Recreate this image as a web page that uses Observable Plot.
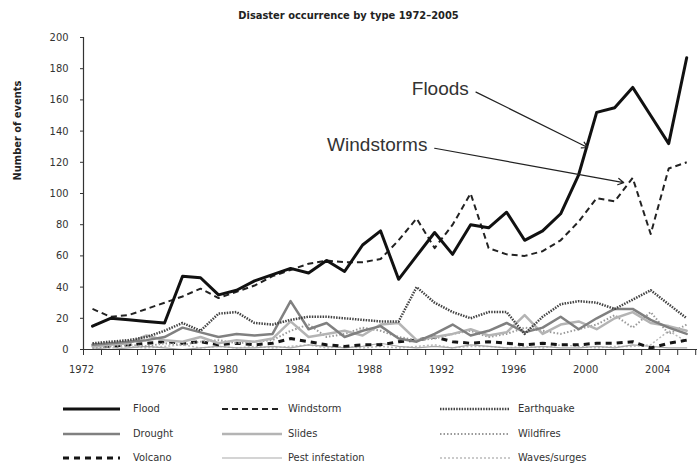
<!DOCTYPE html>
<html><head><meta charset="utf-8">
<script src="https://cdn.jsdelivr.net/npm/d3@7"></script>
<script src="https://cdn.jsdelivr.net/npm/@observablehq/plot@0.6"></script>
<style>
body{margin:0;background:#fff;width:697px;height:466px;overflow:hidden;position:relative;font-family:"Liberation Sans Narrow","DejaVu Sans Condensed","Roboto Condensed",sans-serif;font-stretch:condensed;}
#title{height:30px;line-height:32px;text-align:center;font-weight:bold;font-size:11px;color:#222;}
#chart{height:360px}
.item{position:absolute;font-size:11px;color:#333;line-height:12px;}
.item svg{position:absolute;overflow:visible}
</style></head><body>
<div id="title">Disaster occurrence by type 1972–2005</div>
<div id="chart"></div>
<div id="legend"></div>
<script>
const years = d3.range(1972, 2006);
const flood      = [15,20,19,18,17,47,46,35,38,44,48,52,49,57,50,67,76,45,60,75,61,80,78,88,70,76,87,112,152,155,168,150,132,187];
const windstorm  = [26,21,22,26,30,34,39,33,37,41,47,51,55,57,56,56,58,70,84,65,80,100,65,61,60,63,70,82,97,95,110,74,116,120];
const earthquake = [4,5,6,8,12,17,12,23,24,17,16,19,21,21,20,19,18,18,40,30,24,20,24,24,10,21,29,31,30,26,32,38,29,20];
const drought    = [3,4,5,6,8,14,11,8,10,9,10,31,13,17,8,12,15,7,5,10,16,9,12,17,11,14,21,13,20,26,26,19,14,10];
const slides     = [2,3,4,9,6,5,8,4,6,5,7,18,8,10,12,9,16,17,6,8,10,13,9,11,22,10,16,18,13,20,24,17,15,12];
const wildfires  = [1,2,3,2,4,3,5,6,4,5,6,12,16,8,10,14,12,8,6,7,10,12,8,10,14,12,10,13,16,22,14,24,10,16];
const volcano    = [3,2,3,4,5,4,5,3,4,3,4,7,5,3,2,3,3,5,6,8,5,4,5,4,3,4,3,3,4,4,5,1,4,6];
const pest       = [1,0,1,2,1,0,1,2,1,1,2,1,3,2,1,2,4,2,1,2,1,3,2,1,1,2,1,1,2,1,3,2,1,1];
const waves      = [2,1,2,1,2,3,1,2,1,2,1,2,3,1,2,1,2,1,2,3,1,2,2,1,2,1,3,2,1,2,2,3,12,5];
const names = ["Flood","Windstorm","Earthquake","Drought","Slides","Wildfires","Volcano","Pest infestation","Waves/surges"];
const series = [flood, windstorm, earthquake, drought, slides, wildfires, volcano, pest, waves];
const yTicks = d3.range(0, 201, 20);
const labelYears = d3.range(1972, 2005, 4);
const annotations = [
  {label:"Floods", tx:1992.9, ty:163, x1:1993.3, y1:165, x2:1999.5, y2:129.5},
  {label:"Windstorms", tx:1990.6, ty:127, x1:1991.0, y1:129, x2:2001.5, y2:107}
];

const styles = {
  "Flood":            {stroke:"#111", w:3,   dash:null},
  "Windstorm":        {stroke:"#222", w:2,   dash:"6,4"},
  "Earthquake":       {stroke:"#444", w:2.5, dash:"1.5,1.2"},
  "Drought":          {stroke:"#808080", w:2.5, dash:null},
  "Slides":           {stroke:"#b4b4b4", w:2.5, dash:null},
  "Wildfires":        {stroke:"#999", w:2,   dash:"1.5,2"},
  "Volcano":          {stroke:"#151515", w:3, dash:"6,5"},
  "Pest infestation": {stroke:"#aaa", w:1.2, dash:null},
  "Waves/surges":     {stroke:"#bbb", w:1.5, dash:"2,2"}
};

const rows = names.flatMap((n, i) => years.map((y, j) => ({type: n, year: y, value: series[i][j]})));
const x0 = years[0] - 0.5;
const halfTicks = d3.range(years[0] - 0.5, years[years.length-1] + 0.6, 1);

const lineMarks = [...names].reverse().map(n => {
  const s = styles[n];
  return Plot.line(rows.filter(d => d.type === n), {
    x: "year", y: "value", stroke: s.stroke, strokeWidth: s.w,
    strokeDasharray: s.dash, strokeLinejoin: "round", strokeLinecap: s.dash ? "butt" : "round"
  });
});

const chart = Plot.plot({
  width: 697, height: 360,
  marginLeft: 83, marginRight: 0, marginTop: 7, marginBottom: 41,
  style: {fontFamily: '"Liberation Sans Narrow","DejaVu Sans Condensed",sans-serif', fontSize: "11px", color: "#333", background: "#fff"},
  x: {domain: [x0, 2005.6]},
  y: {domain: [0, 200]},
  marks: [
    ...lineMarks,
    Plot.ruleY([0], {stroke: "#333", strokeWidth: 1.2}),
    Plot.ruleX([x0], {y1: 0, y2: 200, stroke: "#333", strokeWidth: 1.2}),
    Plot.axisY(yTicks, {tickSize: 3, tickPadding: 12, label: null, stroke: "#333"}),
    Plot.axisX(halfTicks, {tickSize: 6, tickFormat: () => "", label: null, stroke: "#333"}),
    Plot.axisX(labelYears.map(y => y - 0.5), {tickSize: 0, tickPadding: 16, tickFormat: d => String(d + 0.5), label: null, dx: -2}),
    Plot.text(["Number of events"], {frameAnchor: "left", rotate: -90, dx: -66, dy: -13, fontWeight: "bold", fontSize: 11, fill: "#222"}),
    Plot.arrow(annotations, {x1: "x1", y1: "y1", x2: "x2", y2: "y2", stroke: "#222", strokeWidth: 1.2, headLength: 8}),
    Plot.text(annotations, {x: "tx", y: "ty", text: "label", textAnchor: "end", lineAnchor: "bottom", fontSize: 19, fontFamily: '"Liberation Sans", Arial, sans-serif', fill: "#333", fontStretch: "normal"})
  ]
});
document.getElementById("chart").appendChild(chart);

// legend
const colSample = [[63,120],[222,282],[440,510]];
const colLabel = [133, 288, 518];
const rowY = [409, 434, 458];
const legend = document.getElementById("legend");
names.forEach((n, i) => {
  const c = i % 3, r = Math.floor(i / 3);
  const s = styles[n];
  const div = document.createElement("div");
  div.className = "item";
  div.style.left = colLabel[c] + "px";
  div.style.top = (rowY[r] - 6) + "px";
  div.textContent = n;
  legend.appendChild(div);
  const svg = d3.create("svg").attr("width", 1).attr("height", 1)
    .style("position", "absolute").style("left", colSample[c][0] + "px").style("top", rowY[r] + "px").style("overflow", "visible");
  svg.append("line").attr("x1", 0).attr("x2", colSample[c][1] - colSample[c][0]).attr("y1", 0).attr("y2", 0)
    .attr("stroke", s.stroke).attr("stroke-width", s.w).attr("stroke-dasharray", s.dash);
  legend.appendChild(svg.node());
});
</script>
</body></html>
